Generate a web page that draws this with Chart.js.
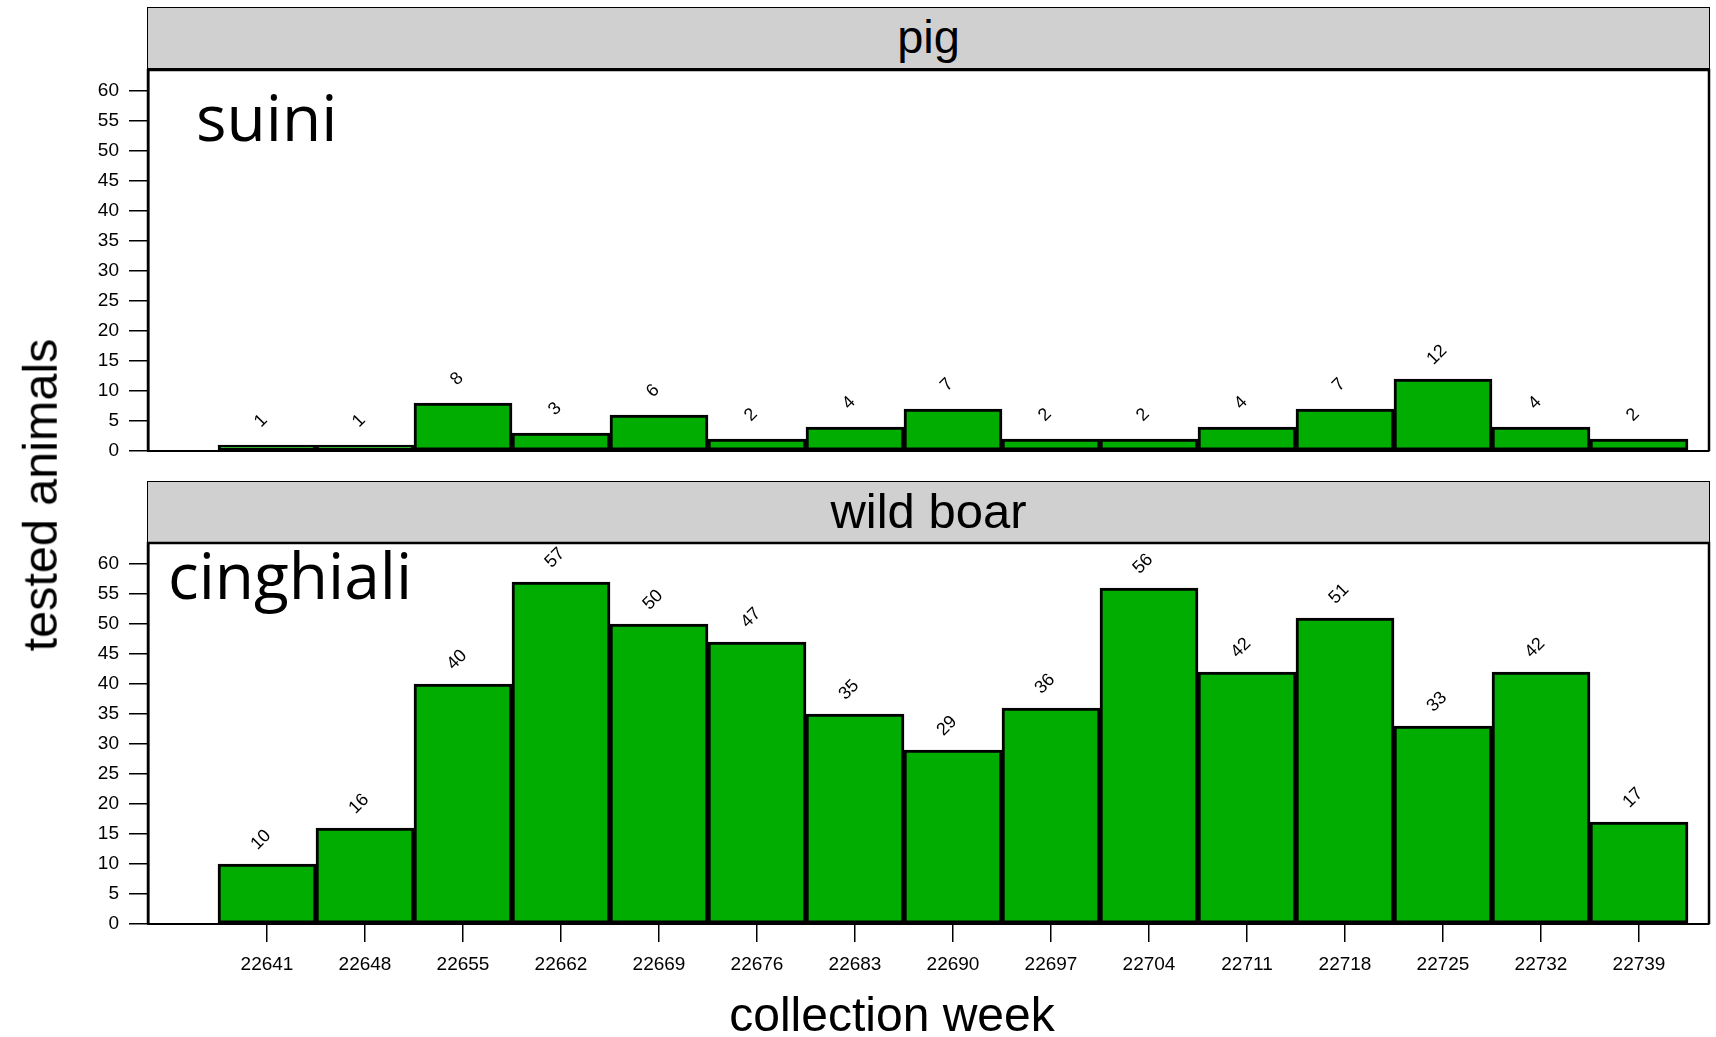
<!DOCTYPE html>
<html lang="en">
<head>
<meta charset="UTF-8">
<title>tested animals by collection week</title>
<script src="https://cdn.jsdelivr.net/npm/chart.js"></script>
<style>
body {
    margin: 0;
    background: #fff;
    width: 1716px;
    height: 1037px;
    position: relative;
    overflow: hidden;
    font-family: "Liberation Sans", Arial, sans-serif;
    color: #000;
}
canvas { position: absolute; left: 0; }
.strip {
    position: absolute;
    left: 147px;
    width: 1563px;
    height: 62px;
    background: #d0d0d0;
    border: 1.5px solid #000;
    box-sizing: border-box;
    text-align: center;
    line-height: 58px;
}
.tag {
    position: absolute;
    font-family: "Open Sans", sans-serif;
    font-size: 64px;
    line-height: 1;
}
.xtitle {
    position: absolute;
    left: 892px;
    top: 991px;
    transform: translateX(-50%);
    font-size: 48px;
    line-height: 1;
    white-space: nowrap;
}
.ytitle {
    position: absolute;
    left: 40px;
    top: 495px;
    transform: translate(-50%, -50%) rotate(-90deg);
    font-size: 48.5px;
    line-height: 1;
    white-space: nowrap;
}
</style>
</head>
<body>
<div class="strip" style="top:7px; font-size:47px">pig</div>
<div class="strip" style="top:481px; font-size:49px">wild boar</div>
<canvas id="pigChart" width="1716" height="401" style="top:60px"></canvas>
<canvas id="boarChart" width="1716" height="471" style="top:533px"></canvas>
<div class="tag" style="left:196px; top:85px">suini</div>
<div class="tag" style="left:168px; top:543px">cinghiali</div>
<div class="ytitle">tested animals</div>
<div class="xtitle">collection week</div>

<script>
// collection weeks (one bar per week)
const weeks = [22641, 22648, 22655, 22662, 22669, 22676, 22683, 22690, 22697, 22704, 22711, 22718, 22725, 22732, 22739];
// tested animals per week
const pigCounts  = [1, 1, 8, 3, 6, 2, 4, 7, 2, 2, 4, 7, 12, 4, 2];
const boarCounts = [10, 16, 40, 57, 50, 47, 35, 29, 36, 56, 42, 51, 33, 42, 17];
const yTicks = [0, 5, 10, 15, 20, 25, 30, 35, 40, 45, 50, 55, 60];

const tickFont = { family: '"Liberation Sans", Arial, sans-serif', size: 19 };

// numbers above bars, tilted 45 degrees
const barLabels = {
    id: 'barLabels',
    afterDatasetsDraw(chart) {
        const ctx = chart.ctx;
        const values = chart.data.datasets[0].data;
        chart.getDatasetMeta(0).data.forEach((bar, i) => {
            ctx.save();
            ctx.translate(bar.x - 6, bar.y - 24);
            ctx.rotate(-Math.PI / 4);
            ctx.font = '18px "Liberation Sans", Arial, sans-serif';
            ctx.fillStyle = '#000';
            ctx.textAlign = 'center';
            ctx.textBaseline = 'middle';
            ctx.fillText(values[i].y, 0, 0);
            ctx.restore();
        });
    }
};

// black box around the panel
const panelBox = {
    id: 'panelBox',
    afterDraw(chart) {
        const a = chart.chartArea;
        const ctx = chart.ctx;
        ctx.save();
        ctx.strokeStyle = '#000';
        ctx.lineWidth = 2.5;
        ctx.beginPath();
        ctx.moveTo(a.left, a.bottom);
        ctx.lineTo(a.left, a.top);
        ctx.lineTo(a.right, a.top);
        ctx.lineTo(a.right, a.bottom);
        ctx.stroke();
        ctx.restore();
    }
};

function noPad(s) {
    s.paddingTop = 0;
    s.paddingBottom = 0;
    s.paddingLeft = 0;
    s.paddingRight = 0;
}

function makePanel(id, counts, showX) {
    const ctx = document.getElementById(id).getContext('2d');
    return new Chart(ctx, {
        type: 'bar',
        data: {
            datasets: [{
                data: weeks.map((w, i) => ({ x: w, y: counts[i] })),
                backgroundColor: '#00ad00',
                borderColor: '#000',
                borderWidth: 3,
                borderSkipped: false,
                barPercentage: 1,
                categoryPercentage: 1
            }]
        },
        options: {
            responsive: false,
            animation: false,
            layout: { padding: { top: 10, right: 7, left: 0, bottom: 0 } },
            plugins: { legend: { display: false }, tooltip: { enabled: false } },
            scales: {
                x: {
                    type: 'linear',
                    offset: false,
                    min: 22632.5,
                    max: 22744,
                    afterBuildTicks: s => { s.ticks = weeks.map(v => ({ value: v })); },
                    afterFit: s => { s.height = showX ? 80 : 10; noPad(s); },
                    grid: { display: showX, offset: false, drawOnChartArea: false, tickLength: 18, color: '#000', lineWidth: 1.5 },
                    border: { display: true, color: '#000', width: 2 },
                    ticks: {
                        display: showX,
                        font: tickFont,
                        color: '#000',
                        padding: 11,
                        maxRotation: 0,
                        autoSkip: false,
                        callback: v => String(v)
                    }
                },
                y: {
                    min: 0,
                    max: 63.5,
                    afterBuildTicks: s => { s.ticks = yTicks.map(v => ({ value: v })); },
                    afterFit: s => { s.width = 148; noPad(s); },
                    grid: { drawOnChartArea: false, tickLength: 19, color: '#000', lineWidth: 1.5 },
                    border: { display: true, color: '#000', width: 2.5 },
                    ticks: { font: tickFont, color: '#000', padding: 10, callback: v => String(v) }
                }
            }
        },
        plugins: [barLabels, panelBox]
    });
}

makePanel('pigChart', pigCounts, false);
makePanel('boarChart', boarCounts, true);
</script>
</body>
</html>
